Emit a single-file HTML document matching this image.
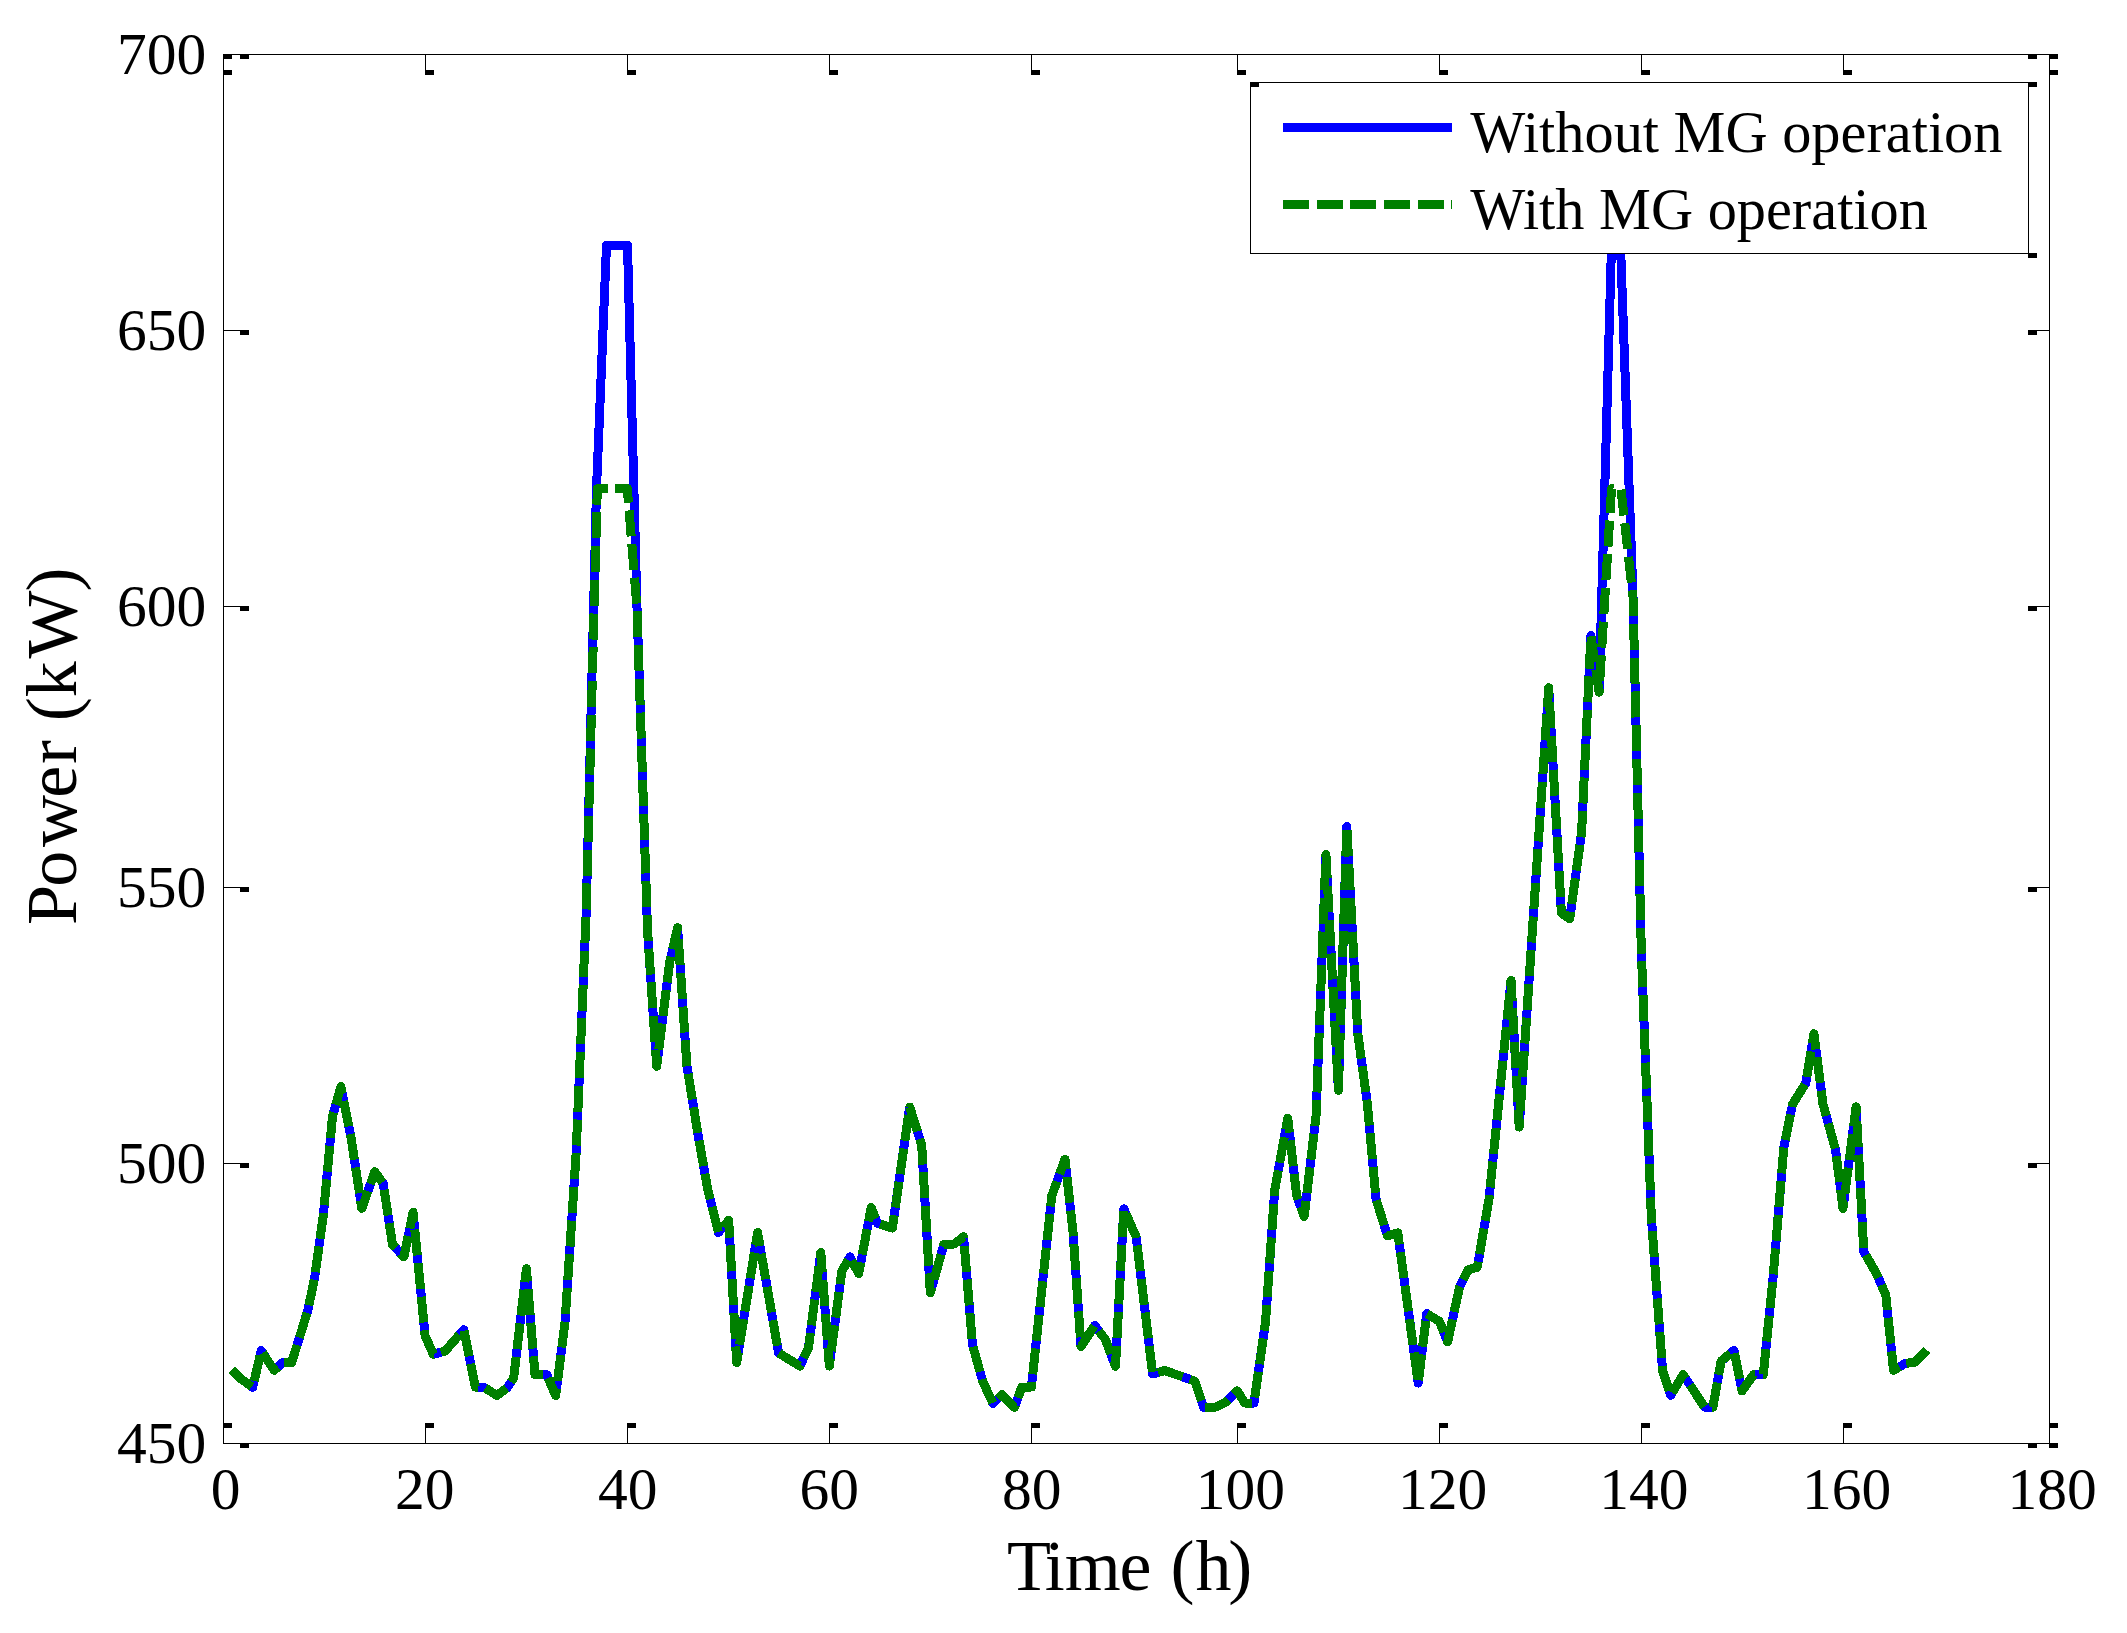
<!DOCTYPE html>
<html><head><meta charset="utf-8"><title>Power</title>
<style>html,body{margin:0;padding:0;background:#fff}svg{display:block}text{font-family:"Liberation Serif","Times New Roman",serif;fill:#000}</style></head><body>
<svg width="2127" height="1633" viewBox="0 0 2127 1633">
<rect x="0" y="0" width="2127" height="1633" fill="#fff"/>
<g fill="none" stroke-linejoin="round" stroke-linecap="butt" stroke-width="9" shape-rendering="crispEdges">
<polyline stroke="#0000ff" points="231.8,1370.0 241.2,1379.0 252.7,1387.3 261.2,1350.6 274.2,1370.3 282.6,1362.5 291.6,1362.5 298.3,1341.3 308.0,1309.7 314.6,1277.8 323.4,1214.6 332.5,1116.4 340.9,1086.5 351.1,1138.0 361.8,1208.4 374.8,1171.7 383.2,1183.6 392.5,1244.5 403.9,1256.9 413.1,1212.3 425.1,1335.9 433.3,1354.3 445.1,1351.1 463.8,1329.7 475.4,1387.0 483.5,1387.0 497.0,1395.5 507.2,1387.8 513.7,1377.9 526.4,1268.8 535.0,1374.6 546.7,1374.6 555.7,1395.5 565.0,1322.4 576.1,1154.0 586.2,912.0 596.5,488.8 606.5,245.4 627.5,245.4 637.0,608.0 647.5,930.0 656.7,1066.3 669.6,962.7 677.6,927.6 686.9,1065.8 697.7,1132.7 707.9,1190.5 718.4,1232.5 728.7,1220.4 736.7,1362.4 757.6,1232.6 778.6,1353.0 799.9,1366.1 808.5,1347.8 820.8,1252.5 829.3,1366.1 841.8,1271.4 849.9,1256.9 858.7,1273.5 871.2,1207.6 877.3,1223.2 892.4,1228.1 909.7,1107.0 921.7,1145.1 930.3,1293.0 943.8,1244.6 954.1,1244.0 963.6,1236.8 972.5,1344.9 982.6,1381.0 993.0,1403.6 1001.8,1394.6 1014.5,1407.3 1021.8,1387.0 1031.4,1387.0 1051.8,1195.8 1065.0,1159.2 1073.0,1232.0 1081.0,1346.6 1094.6,1325.5 1105.3,1339.3 1115.5,1366.3 1123.8,1208.8 1136.2,1237.0 1152.6,1374.0 1164.7,1370.5 1194.8,1381.1 1203.6,1407.2 1215.4,1407.1 1226.4,1401.6 1237.4,1390.8 1244.8,1403.0 1254.0,1403.0 1265.5,1322.3 1274.7,1190.2 1287.8,1118.3 1296.6,1195.3 1304.2,1216.5 1316.1,1115.2 1325.9,854.4 1338.4,1090.3 1346.8,826.5 1357.8,1033.7 1367.3,1103.0 1376.0,1199.0 1387.5,1236.0 1397.8,1232.9 1418.2,1383.1 1426.7,1313.6 1439.5,1321.5 1447.6,1342.0 1459.4,1287.7 1468.2,1269.8 1477.3,1267.2 1489.0,1199.0 1511.0,980.4 1519.2,1127.1 1548.7,687.7 1561.4,913.1 1569.7,918.9 1581.6,832.5 1590.9,635.6 1599.1,692.2 1611.5,245.4 1620.5,245.4 1633.0,597.0 1641.3,950.0 1651.3,1216.5 1662.6,1370.8 1670.7,1395.3 1683.2,1374.6 1704.5,1407.1 1712.9,1407.1 1721.1,1361.2 1733.9,1350.3 1742.0,1390.9 1753.7,1374.5 1763.3,1374.5 1773.1,1277.4 1783.8,1147.4 1792.6,1104.1 1805.8,1083.0 1813.9,1033.7 1823.0,1104.1 1835.5,1149.6 1843.0,1208.3 1856.1,1106.9 1863.8,1251.7 1876.6,1273.8 1885.8,1295.1 1893.5,1370.3 1905.2,1363.4 1914.8,1362.3 1927.0,1350.0"/>
<polyline stroke="#008000" stroke-dasharray="26 7.75" points="231.8,1370.0 241.2,1379.0 252.7,1387.3 261.2,1350.6 274.2,1370.3 282.6,1362.5 291.6,1362.5 298.3,1341.3 308.0,1309.7 314.6,1277.8 323.4,1214.6 332.5,1116.4 340.9,1086.5 351.1,1138.0 361.8,1208.4 374.8,1171.7 383.2,1183.6 392.5,1244.5 403.9,1256.9 413.1,1212.3 425.1,1335.9 433.3,1354.3 445.1,1351.1 463.8,1329.7 475.4,1387.0 483.5,1387.0 497.0,1395.5 507.2,1387.8 513.7,1377.9 526.4,1268.8 535.0,1374.6 546.7,1374.6 555.7,1395.5 565.0,1322.4 576.1,1154.0 586.2,912.0 597.3,488.8 606.5,488.8 627.3,488.8 637.0,608.0 647.5,930.0 656.7,1066.3 669.6,962.7 677.6,927.6 686.9,1065.8 697.7,1132.7 707.9,1190.5 718.4,1232.5 728.7,1220.4 736.7,1362.4 757.6,1232.6 778.6,1353.0 799.9,1366.1 808.5,1347.8 820.8,1252.5 829.3,1366.1 841.8,1271.4 849.9,1256.9 858.7,1273.5 871.2,1207.6 877.3,1223.2 892.4,1228.1 909.7,1107.0 921.7,1145.1 930.3,1293.0 943.8,1244.6 954.1,1244.0 963.6,1236.8 972.5,1344.9 982.6,1381.0 993.0,1403.6 1001.8,1394.6 1014.5,1407.3 1021.8,1387.0 1031.4,1387.0 1051.8,1195.8 1065.0,1159.2 1073.0,1232.0 1081.0,1346.6 1094.6,1325.5 1105.3,1339.3 1115.5,1366.3 1123.8,1208.8 1136.2,1237.0 1152.6,1374.0 1164.7,1370.5 1194.8,1381.1 1203.6,1407.2 1215.4,1407.1 1226.4,1401.6 1237.4,1390.8 1244.8,1403.0 1254.0,1403.0 1265.5,1322.3 1274.7,1190.2 1287.8,1118.3 1296.6,1195.3 1304.2,1216.5 1316.1,1115.2 1325.9,854.4 1338.4,1090.3 1346.8,826.5 1357.8,1033.7 1367.3,1103.0 1376.0,1199.0 1387.5,1236.0 1397.8,1232.9 1418.2,1383.1 1426.7,1313.6 1439.5,1321.5 1447.6,1342.0 1459.4,1287.7 1468.2,1269.8 1477.3,1267.2 1489.0,1199.0 1511.0,980.4 1519.2,1127.1 1548.7,687.7 1561.4,913.1 1569.7,918.9 1581.6,832.5 1590.9,635.6 1599.1,692.2 1611.5,488.8 1621.0,489.5 1633.0,597.0 1641.3,950.0 1651.3,1216.5 1662.6,1370.8 1670.7,1395.3 1683.2,1374.6 1704.5,1407.1 1712.9,1407.1 1721.1,1361.2 1733.9,1350.3 1742.0,1390.9 1753.7,1374.5 1763.3,1374.5 1773.1,1277.4 1783.8,1147.4 1792.6,1104.1 1805.8,1083.0 1813.9,1033.7 1823.0,1104.1 1835.5,1149.6 1843.0,1208.3 1856.1,1106.9 1863.8,1251.7 1876.6,1273.8 1885.8,1295.1 1893.5,1370.3 1905.2,1363.4 1914.8,1362.3 1927.0,1350.0"/>
</g>
<g fill="#000" shape-rendering="crispEdges">
<rect x="223" y="54" width="1827" height="1"/>
<rect x="223" y="1443" width="1827" height="1"/>
<rect x="223" y="54" width="1" height="1390"/>
<rect x="2049" y="54" width="1" height="1390"/>
<rect x="223" y="70" width="9" height="5"/>
<rect x="223" y="1423" width="9" height="5"/>
<rect x="425" y="54" width="1" height="17"/>
<rect x="425" y="1427" width="1" height="17"/>
<rect x="425" y="70" width="9" height="5"/>
<rect x="425" y="1423" width="9" height="5"/>
<rect x="627" y="54" width="1" height="17"/>
<rect x="627" y="1427" width="1" height="17"/>
<rect x="627" y="70" width="9" height="5"/>
<rect x="627" y="1423" width="9" height="5"/>
<rect x="829" y="54" width="1" height="17"/>
<rect x="829" y="1427" width="1" height="17"/>
<rect x="829" y="70" width="9" height="5"/>
<rect x="829" y="1423" width="9" height="5"/>
<rect x="1031" y="54" width="1" height="17"/>
<rect x="1031" y="1427" width="1" height="17"/>
<rect x="1031" y="70" width="9" height="5"/>
<rect x="1031" y="1423" width="9" height="5"/>
<rect x="1237" y="54" width="1" height="17"/>
<rect x="1237" y="1427" width="1" height="17"/>
<rect x="1237" y="70" width="9" height="5"/>
<rect x="1237" y="1423" width="9" height="5"/>
<rect x="1439" y="54" width="1" height="17"/>
<rect x="1439" y="1427" width="1" height="17"/>
<rect x="1439" y="70" width="9" height="5"/>
<rect x="1439" y="1423" width="9" height="5"/>
<rect x="1641" y="54" width="1" height="17"/>
<rect x="1641" y="1427" width="1" height="17"/>
<rect x="1641" y="70" width="9" height="5"/>
<rect x="1641" y="1423" width="9" height="5"/>
<rect x="1843" y="54" width="1" height="17"/>
<rect x="1843" y="1427" width="1" height="17"/>
<rect x="1843" y="70" width="9" height="5"/>
<rect x="1843" y="1423" width="9" height="5"/>
<rect x="2049" y="70" width="9" height="5"/>
<rect x="2049" y="1423" width="9" height="5"/>
<rect x="240" y="54" width="9" height="5"/>
<rect x="2028" y="54" width="9" height="5"/>
<rect x="223" y="330" width="18" height="1"/>
<rect x="2037" y="330" width="13" height="1"/>
<rect x="240" y="330" width="9" height="5"/>
<rect x="2028" y="330" width="9" height="5"/>
<rect x="223" y="606" width="18" height="1"/>
<rect x="2037" y="606" width="13" height="1"/>
<rect x="240" y="606" width="9" height="5"/>
<rect x="2028" y="606" width="9" height="5"/>
<rect x="223" y="887" width="18" height="1"/>
<rect x="2037" y="887" width="13" height="1"/>
<rect x="240" y="887" width="9" height="5"/>
<rect x="2028" y="887" width="9" height="5"/>
<rect x="223" y="1163" width="18" height="1"/>
<rect x="2037" y="1163" width="13" height="1"/>
<rect x="240" y="1163" width="9" height="5"/>
<rect x="2028" y="1163" width="9" height="5"/>
<rect x="240" y="1443" width="9" height="5"/>
<rect x="2028" y="1443" width="9" height="5"/>
<rect x="223" y="54" width="9" height="5"/>
<rect x="2049" y="54" width="9" height="5"/>
<rect x="2049" y="1443" width="9" height="5"/>
</g>
<g font-size="59.5">
<text x="225.50" y="1508.8" text-anchor="middle">0</text>
<text x="424.70" y="1508.8" text-anchor="middle">20</text>
<text x="627.70" y="1508.8" text-anchor="middle">40</text>
<text x="829.30" y="1508.8" text-anchor="middle">60</text>
<text x="1031.70" y="1508.8" text-anchor="middle">80</text>
<text x="1240.30" y="1508.8" text-anchor="middle">100</text>
<text x="1442.50" y="1508.8" text-anchor="middle">120</text>
<text x="1643.90" y="1508.8" text-anchor="middle">140</text>
<text x="1846.50" y="1508.8" text-anchor="middle">160</text>
<text x="2052.10" y="1508.8" text-anchor="middle">180</text>
<text x="206.20" y="74.3" text-anchor="end">700</text>
<text x="206.20" y="350.3" text-anchor="end">650</text>
<text x="206.20" y="626.3" text-anchor="end">600</text>
<text x="206.20" y="907.3" text-anchor="end">550</text>
<text x="206.20" y="1183.3" text-anchor="end">500</text>
<text x="206.20" y="1463.3" text-anchor="end">450</text>
</g>
<text y="1589.8" font-size="72" x="1007 1044.75 1064.8 1119.6 1152 1170.6 1195.4 1228.35">Time (h)</text>
<text transform="translate(76.2,923) rotate(-90)" font-size="72" y="0" x="-1.9 36.25 76.05 125.25 159.05 183 201.85 225.85 264.55 331.5">Power (kW)</text>
<g shape-rendering="crispEdges">
<rect x="1250" y="82" width="779" height="172" fill="#fff"/>
<g fill="#000">
<rect x="1250" y="82" width="779" height="1"/>
<rect x="1250" y="253" width="779" height="1"/>
<rect x="1250" y="82" width="1" height="172"/>
<rect x="2028" y="82" width="1" height="172"/>
<rect x="1250" y="82" width="9" height="5"/>
<rect x="2028" y="82" width="9" height="5"/>
<rect x="2028" y="253" width="9" height="5"/>
</g>
<rect x="1283" y="123" width="169" height="9" fill="#0000ff"/>
<rect x="1283" y="200" width="26" height="9" fill="#008000"/>
<rect x="1317" y="200" width="26" height="9" fill="#008000"/>
<rect x="1350" y="200" width="26" height="9" fill="#008000"/>
<rect x="1384" y="200" width="26" height="9" fill="#008000"/>
<rect x="1418" y="200" width="26" height="9" fill="#008000"/>
<rect x="1451" y="200" width="1" height="9" fill="#008000"/>
</g>
<g font-size="58.33">
<text x="1470.20" y="152">Without MG operation</text>
<text x="1470.20" y="229">With MG operation</text>
</g>
</svg></body></html>
